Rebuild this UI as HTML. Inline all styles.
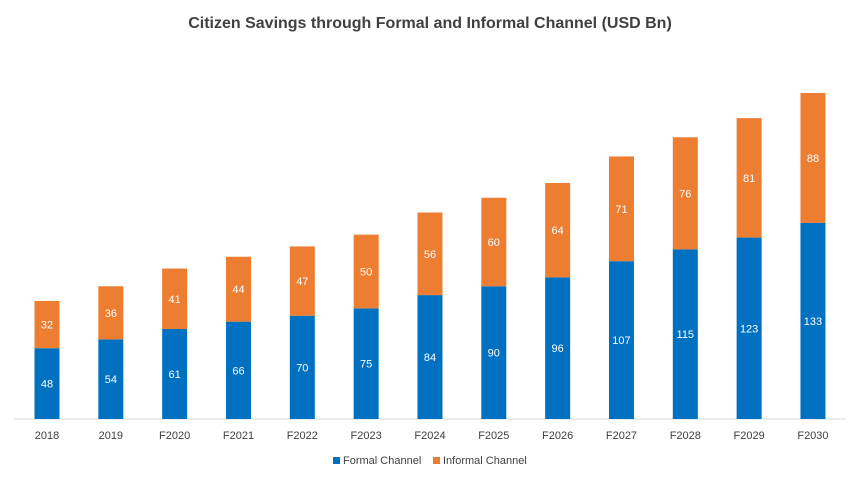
<!DOCTYPE html>
<html><head><meta charset="utf-8"><style>
body{margin:0;background:#fff;}
svg{display:block;font-family:"Liberation Sans",sans-serif;}
</style></head><body>
<svg id="chart" width="860" height="481">
<text x="430" y="28" text-anchor="middle" font-size="16" font-weight="bold" fill="#404040">Citizen Savings through Formal and Informal Channel (USD Bn)</text>
<line x1="14" y1="419" x2="846" y2="419" stroke="#d9d9d9" stroke-width="1"/>
<g id="bars"></g>
<g>
<rect x="333" y="457" width="7" height="7" fill="#0070C0"/>
<text x="343" y="464" font-size="11" fill="#404040">Formal Channel</text>
<rect x="433" y="457" width="7" height="7" fill="#ED7D31"/>
<text x="443" y="464" font-size="11" fill="#404040">Informal Channel</text>
</g>
</svg>
<script>
const categories=["2018","2019","F2020","F2021","F2022","F2023","F2024","F2025","F2026","F2027","F2028","F2029","F2030"];
const formal=[48,54,61,66,70,75,84,90,96,107,115,123,133];
const informal=[32,36,41,44,47,50,56,60,64,71,76,81,88];
const ns="http://www.w3.org/2000/svg";
const g=document.getElementById('bars');
const x0=47,step=63.83,bw=25,base=419,k=1.475;
const xs=i=>x0+i*step;
const ys=v=>base-v*k;
function mk(t,a){const e=document.createElementNS(ns,t);for(const n in a)e.setAttribute(n,a[n]);g.appendChild(e);return e;}
categories.forEach((c,i)=>{
const cx=xs(i);
const f=mk('rect',{x:cx-bw/2,y:ys(formal[i]),width:bw,height:base-ys(formal[i]),fill:'#0070C0'});


const top=formal[i]+informal[i];
const r=mk('rect',{x:cx-bw/2,y:ys(top),width:bw,height:ys(formal[i])-ys(top),fill:'#ED7D31'});


const t1=mk('text',{x:cx,y:(ys(formal[i])+base)/2+4,'text-anchor':'middle','font-size':'11',fill:'#fff'});
t1.textContent=formal[i];


const t2=mk('text',{x:cx,y:(ys(top)+ys(formal[i]))/2+4,'text-anchor':'middle','font-size':'11',fill:'#fff'});
t2.textContent=informal[i];


const t3=mk('text',{x:cx,y:439,'text-anchor':'middle','font-size':'11',fill:'#404040'});
t3.textContent=c;


});
</script>
</body></html>
